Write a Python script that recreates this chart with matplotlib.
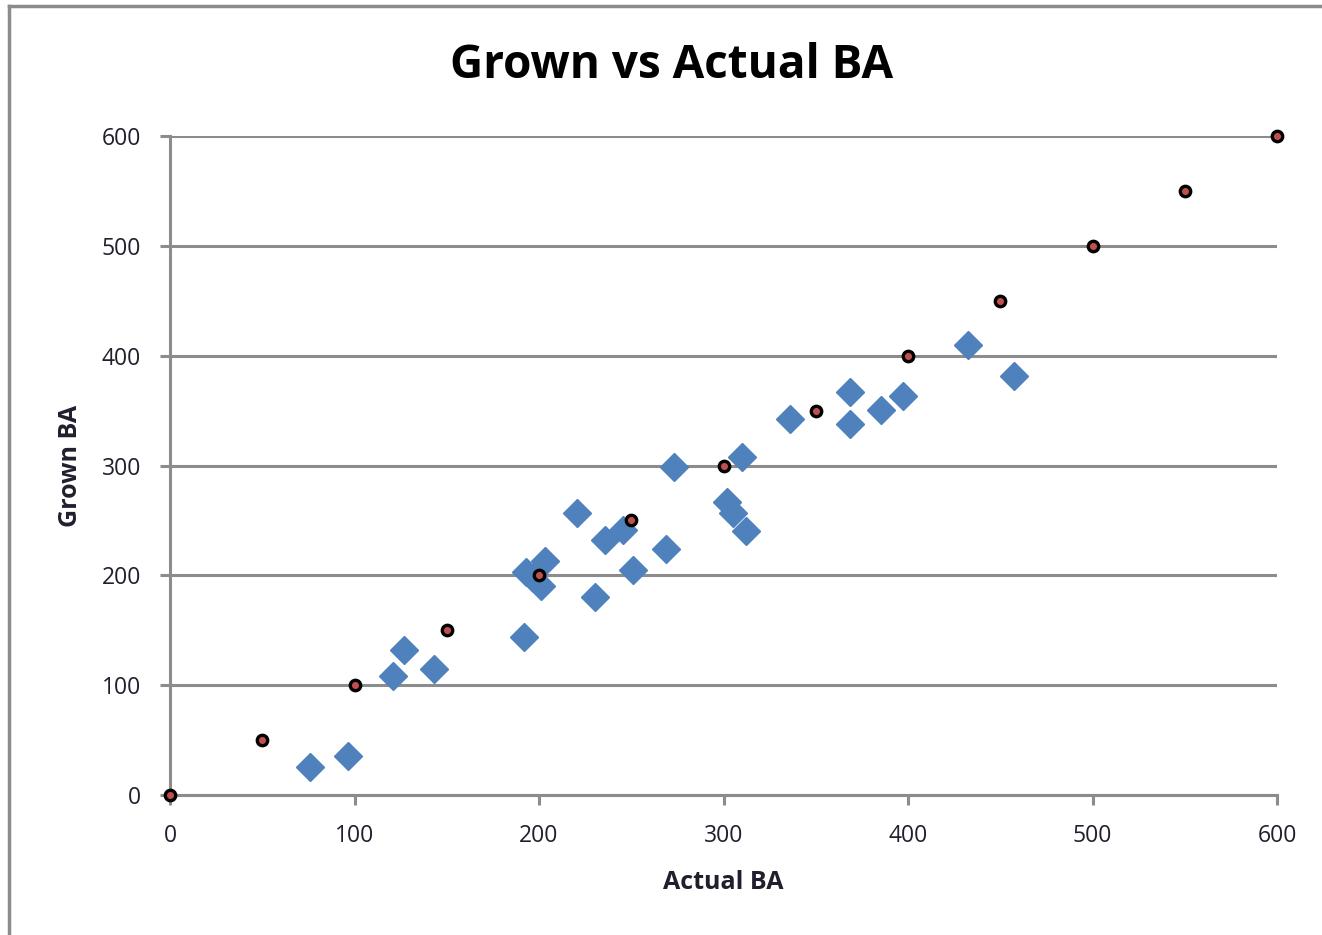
import matplotlib
matplotlib.use('Agg')
from matplotlib import pyplot as plt
from matplotlib.lines import Line2D

# Measured basal area vs grown basal area
actual_ba = [76, 96.5, 121, 127, 143, 192, 193, 197, 203, 201, 220.5, 236, 245.5,
             230.5, 251, 269, 273, 302, 305, 312, 310, 336, 368.5, 368.5, 385.5,
             397.5, 432.5, 457.5]
grown_ba = [25.5, 35.5, 108, 132, 114.5, 144, 203, 198, 213, 190, 257, 232, 241,
            180.5, 205, 224, 299, 267, 257, 240.5, 308, 342, 367, 338, 350.5,
            363.5, 409.5, 381.5]

# 1:1 reference line points
ref_x = [0, 50, 100, 150, 200, 250, 300, 350, 400, 450, 500, 550, 600]
ref_y = [0, 50, 100, 150, 200, 250, 300, 350, 400, 450, 500, 550, 600]

ticks = [0, 100, 200, 300, 400, 500, 600]

plt.rcParams['font.family'] = ['Open Sans', 'DejaVu Sans']

fig = plt.figure(figsize=(13.22, 9.35), dpi=100)
ax = fig.add_axes([0.1286, 0.1497, 0.8374, 0.7048])

grid_col = '#8c8c8c'
text_col = '#1f1f2e'
ax.set_xlim(0, 600)
ax.set_ylim(0, 600)
ax.set_xticks(ticks)
ax.set_yticks(ticks)
ax.yaxis.grid(True, color=grid_col, linewidth=2.2)
ax.set_axisbelow(True)

for side in ['top', 'right']:
    ax.spines[side].set_visible(False)
for side in ['left', 'bottom']:
    ax.spines[side].set_color(grid_col)
    ax.spines[side].set_linewidth(2.2)

ax.tick_params(axis='both', colors=grid_col, width=2.2, length=7,
               labelsize=16.5, labelcolor=text_col)
ax.tick_params(axis='x', pad=14)
ax.tick_params(axis='y', pad=14)

ax.plot(actual_ba, grown_ba, linestyle='none', marker='D', markersize=14,
        color='#4f81bd', markeredgecolor='#4f81bd', clip_on=False, zorder=3)
ax.plot(ref_x, ref_y, linestyle='none', marker='o', markersize=7.5,
        markerfacecolor='#c0504d', markeredgecolor='black', markeredgewidth=2.4,
        clip_on=False, zorder=4)

fig.text(672 / 1322, 1 - 65 / 935, 'Grown vs Actual BA', fontsize=33,
         fontweight='bold', ha='center', va='center')
ax.set_xlabel('Actual BA', fontsize=18, fontweight='bold', color=text_col, labelpad=16)
ax.set_ylabel('Grown BA', fontsize=18, fontweight='bold', color=text_col, labelpad=13)

# chart area border
fig.add_artist(Line2D([0.0068, 0.0068], [0, 0.9936], transform=fig.transFigure,
                      color='#8c8c8c', linewidth=2.5))
fig.add_artist(Line2D([0.0068, 1.0], [0.9936, 0.9936], transform=fig.transFigure,
                      color='#8c8c8c', linewidth=2.5))

plt.savefig('out.png', dpi=100, facecolor='white')
